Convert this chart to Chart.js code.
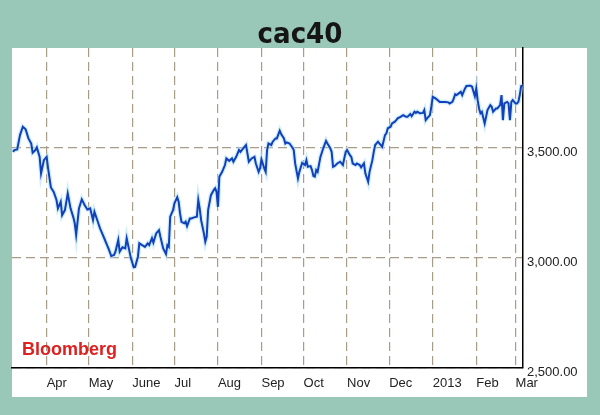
<!DOCTYPE html>
<html>
<head>
<meta charset="utf-8">
<script src="https://cdn.jsdelivr.net/npm/chart.js@4/dist/chart.umd.min.js"></script>
<style>
html,body{margin:0;padding:0;background:#9ac8b8;}
canvas{display:block;}
</style>
</head>
<body>
<canvas id="c" width="600" height="415"></canvas>
<script>
const titleText = 'cac40';
const sourceText = 'Bloomberg';

const dates = [
'2012-03-08','2012-03-09','2012-03-11','2012-03-13','2012-03-15','2012-03-17','2012-03-19','2012-03-21','2012-03-22','2012-03-24','2012-03-25','2012-03-27','2012-03-28','2012-03-30',
'2012-04-01','2012-04-02','2012-04-04','2012-04-06','2012-04-08','2012-04-09','2012-04-11','2012-04-12','2012-04-14','2012-04-16','2012-04-18','2012-04-20','2012-04-21','2012-04-22','2012-04-24','2012-04-26','2012-04-28','2012-04-30',
'2012-05-02','2012-05-04','2012-05-05','2012-05-07','2012-05-09','2012-05-10','2012-05-12','2012-05-14','2012-05-15','2012-05-17','2012-05-19','2012-05-20','2012-05-22','2012-05-23','2012-05-25','2012-05-27','2012-05-28','2012-05-30','2012-05-31',
'2012-06-02','2012-06-03','2012-06-05','2012-06-06','2012-06-08','2012-06-10','2012-06-12','2012-06-13','2012-06-15','2012-06-16','2012-06-18','2012-06-20','2012-06-21','2012-06-23','2012-06-25','2012-06-26','2012-06-27','2012-06-28','2012-06-30',
'2012-07-01','2012-07-03','2012-07-04','2012-07-05','2012-07-06','2012-07-08','2012-07-09','2012-07-10','2012-07-12','2012-07-13','2012-07-15','2012-07-17','2012-07-18','2012-07-19','2012-07-20','2012-07-22','2012-07-23','2012-07-24','2012-07-25','2012-07-27','2012-07-29','2012-07-30','2012-07-31',
'2012-08-01','2012-08-02','2012-08-04','2012-08-06','2012-08-07','2012-08-09','2012-08-11','2012-08-12','2012-08-14','2012-08-16','2012-08-17','2012-08-19','2012-08-21','2012-08-22','2012-08-23','2012-08-25','2012-08-27','2012-08-28','2012-08-30','2012-08-31',
'2012-09-01','2012-09-03','2012-09-04','2012-09-05','2012-09-06','2012-09-08','2012-09-09','2012-09-11','2012-09-12','2012-09-14','2012-09-15','2012-09-17','2012-09-18','2012-09-19','2012-09-21','2012-09-23','2012-09-24','2012-09-25','2012-09-27','2012-09-28','2012-09-30',
'2012-10-02','2012-10-03','2012-10-04','2012-10-06','2012-10-07','2012-10-08','2012-10-09','2012-10-10','2012-10-11','2012-10-13','2012-10-15','2012-10-17','2012-10-18','2012-10-20','2012-10-21','2012-10-22','2012-10-23','2012-10-25','2012-10-27','2012-10-29','2012-10-30','2012-10-31',
'2012-11-01','2012-11-03','2012-11-04','2012-11-05','2012-11-07','2012-11-08','2012-11-10','2012-11-11','2012-11-13','2012-11-14','2012-11-16','2012-11-17','2012-11-19','2012-11-20','2012-11-21','2012-11-23','2012-11-24','2012-11-26','2012-11-28','2012-11-29','2012-11-30',
'2012-12-02','2012-12-03','2012-12-05','2012-12-06','2012-12-07','2012-12-09','2012-12-11','2012-12-13','2012-12-14','2012-12-16','2012-12-17','2012-12-19','2012-12-20','2012-12-21','2012-12-23','2012-12-25','2012-12-26','2012-12-27','2012-12-28','2012-12-30','2012-12-31',
'2013-01-01','2013-01-03','2013-01-05','2013-01-06','2013-01-08','2013-01-10','2013-01-12','2013-01-13','2013-01-15','2013-01-16','2013-01-17','2013-01-18','2013-01-20','2013-01-21','2013-01-22','2013-01-24','2013-01-25','2013-01-27','2013-01-28','2013-01-29','2013-01-31',
'2013-02-01','2013-02-02','2013-02-03','2013-02-04','2013-02-05','2013-02-07','2013-02-08','2013-02-09','2013-02-11','2013-02-12','2013-02-13','2013-02-15','2013-02-16','2013-02-18','2013-02-19','2013-02-20','2013-02-21','2013-02-23','2013-02-24','2013-02-25','2013-02-26','2013-02-27',
'2013-03-01','2013-03-02','2013-03-03','2013-03-04','2013-03-05','2013-03-06'
];

const cac40 = [
3483,3491,3494,3559,3597,3585,3544,3521,3479,3491,3503,3460,3385,3445,
3460,3408,3321,3301,3264,3226,3256,3195,3218,3294,3226,3185,3158,3105,3226,3267,3241,3221,
3226,3173,3210,3173,3135,3120,3090,3059,3044,3009,3014,3029,3082,3029,3049,3044,3090,3029,2999,
2958,2960,3006,3067,3059,3051,3067,3059,3090,3070,3112,3127,3097,3044,3018,3059,3051,3188,3218,
3249,3276,3256,3203,3165,3158,3165,3145,3180,3180,3185,3188,3264,3226,3173,3112,3074,3097,3218,3286,3309,3317,3301,
3233,3370,3392,3423,3453,3442,3453,3438,3460,3491,3483,3499,3514,3476,3438,3453,3460,3430,3392,3408,
3449,3408,3392,3491,3521,3514,3529,3544,3544,3579,3564,3544,3521,3526,3521,3503,3491,3430,3362,3392,3433,
3423,3445,3415,3418,3400,3373,3370,3400,3392,3460,3499,3533,3521,3499,3483,3415,3418,3430,3438,3423,3453,3483,
3491,3468,3460,3430,3423,3430,3423,3412,3430,3385,3347,3392,3445,3483,3514,3529,3521,3506,3559,3567,3590,
3597,3612,3620,3627,3635,3642,3650,3642,3642,3655,3645,3665,3660,3665,3658,3660,3673,3627,3635,3650,3688,
3733,3726,3715,3710,3710,3710,3708,3703,3710,3726,3745,3741,3751,3756,3741,3771,3782,3783,3783,3779,3736,
3771,3718,3680,3658,3665,3612,3642,3673,3695,3688,3665,3680,3680,3695,3741,3627,3703,3710,3703,3627,3710,3718,
3703,3703,3710,3741,3782,3783
];

const monthTickDates = ['2012-04-01','2012-05-01','2012-06-01','2012-07-01','2012-08-01','2012-09-01','2012-10-01','2012-11-01','2012-12-01','2013-01-01','2013-02-01','2013-03-01'];
const monthTickLabels = ['Apr','May','June','Jul','Aug','Sep','Oct','Nov','Dec','2013','Feb','Mar'];
const yTickValues = [2500, 3000, 3500];

const xRangeStart = '2012-03-07';
const xRangeEnd = '2013-03-06';

function dayOf(s) {
  const p = s.split('-').map(Number);
  return (Date.UTC(p[0], p[1] - 1, p[2]) - Date.UTC(2012, 3, 1)) / 86400000;
}

const points = dates.map((d, i) => ({ x: dayOf(d), y: cac40[i] }));
const tickDays = monthTickDates.map(dayOf);

const bgPlugin = {
  id: 'bg',
  beforeDraw(chart) {
    const ctx = chart.ctx;
    ctx.save();
    ctx.fillStyle = '#9ac8b8';
    ctx.fillRect(0, 0, chart.width, chart.height);
    ctx.fillStyle = '#ffffff';
    ctx.fillRect(12, 48, 575, 349);
    ctx.restore();
  },
  afterDraw(chart) {
    const ctx = chart.ctx;
    ctx.save();
    ctx.fillStyle = '#dd2020';
    ctx.font = 'bold 18px "Liberation Sans", Arial, sans-serif';
    ctx.textBaseline = 'alphabetic';
    ctx.textAlign = 'left';
    ctx.fillText(sourceText, chart.chartArea.left + 10, 355);
    ctx.restore();
  }
};

new Chart(document.getElementById('c'), {
  type: 'line',
  data: {
    datasets: [
      {
        label: 'cac40',
        data: points,
        borderColor: '#1240b8',
        borderWidth: 2,
        pointRadius: 0,
        tension: 0,
        fill: false,
        order: 1
      },
      {
        label: 'halo',
        data: points,
        borderColor: 'rgba(175,225,250,0.6)',
        borderWidth: 4.5,
        pointRadius: 0,
        tension: 0,
        fill: false,
        order: 2
      }
    ]
  },
  options: {
    responsive: false,
    animation: false,
    devicePixelRatio: 1,
    layout: { padding: { left: 12, right: 12, top: 18, bottom: 18 } },
    plugins: {
      legend: { display: false },
      tooltip: { enabled: false },
      title: {
        display: true,
        text: titleText,
        color: '#151515',
        font: { family: '"Liberation Sans Narrow", "DejaVu Sans Condensed", "Arial Narrow", sans-serif', size: 29, weight: 'bold', lineHeight: 0.897 },
        padding: { top: 4, bottom: 0 }
      }
    },
    scales: {
      x: {
        type: 'linear',
        position: 'bottom',
        min: dayOf(xRangeStart) + 0.3,
        max: dayOf(xRangeEnd) + 0.3,
        afterBuildTicks(scale) {
          scale.ticks = tickDays.map(v => ({ value: v }));
        },
        afterFit(scale) { scale.height = 29; },
        ticks: {
          autoSkip: false,
          maxRotation: 0,
          minRotation: 0,
          align: 'start',
          padding: 8,
          color: '#222',
          font: { family: '"Liberation Sans", Arial, sans-serif', size: 13 },
          callback(value) {
            const i = tickDays.indexOf(value);
            return i >= 0 ? monthTickLabels[i] : '';
          }
        },
        grid: { color: '#a89d88', lineWidth: 1.2, drawTicks: false },
        border: { display: true, color: '#000', width: 1.5, dash: [9, 5] }
      },
      y: {
        type: 'linear',
        position: 'right',
        min: 2500,
        max: 3955,
        afterBuildTicks(scale) {
          scale.ticks = yTickValues.map(v => ({ value: v }));
        },
        afterFit(scale) { scale.width = 65; },
        ticks: {
          padding: 4,
          labelOffset: 4,
          color: '#222',
          font: { family: '"Liberation Sans", Arial, sans-serif', size: 13 },
          callback(value) {
            return value.toLocaleString('en-US', { minimumFractionDigits: 2, maximumFractionDigits: 2 });
          }
        },
        grid: { color: '#a89d88', lineWidth: 1.2, drawTicks: false },
        border: { display: true, color: '#000', width: 1.5, dash: [9, 5] }
      }
    }
  },
  plugins: [bgPlugin]
});
</script>
</body>
</html>
